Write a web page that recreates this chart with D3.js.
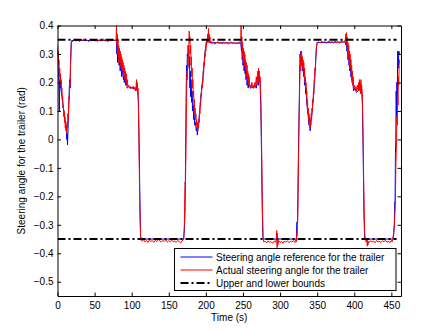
<!DOCTYPE html>
<html>
<head>
<meta charset="utf-8">
<script src="https://cdn.jsdelivr.net/npm/d3@7"></script>
<style>
  body { margin: 0; background: #fff; }
  text { font-family: Helvetica, Arial, "Liberation Sans", sans-serif; }
</style>
</head>
<body>
<svg id="chart" width="443" height="333"></svg>
<script>
// steering angle reference (blue), [time s, angle rad]
var reference = [
  [0,0.32],[0.5,0.27],[1,0.24],[1.5,0.22],[2,0.2],[2.5,0.10],[3,0.21],[3.5,0.18],[4,0.2],[5,0.17],[6,0.15],[7,0.13],
  [8,0.11],[9,0.09],[10,0.07],[11,0.05],[12,0.03],[12.5,0.0],[13,0.02],[13.5,-0.02],[14,0.02],[14.5,0.06],[15,0.10],
  [15.5,0.14],[16,0.19],[16.5,0.21],[17,0.18],[17.5,0.26],[18,0.3],[18.5,0.34],[19,0.347],[30,0.348],[45,0.347],
  [60,0.348],[79,0.348],
  [79.5,0.35],[80,0.30],[80.5,0.33],[81,0.27],[81.5,0.31],[82,0.28],[82.5,0.30],[83,0.26],[84,0.28],[84.5,0.24],
  [85,0.27],[86,0.25],[86.5,0.22],[87,0.26],[88,0.23],[89,0.21],[89.5,0.24],[90,0.20],[91,0.22],[92,0.19],[93,0.20],
  [94,0.18],[96,0.185],[98,0.18],[100,0.182],[102,0.178],[104,0.18],[106,0.175],[107,0.19],[108,0.17],[109,0.14],
  [110,0.0],[111,-0.2],[112,-0.34],[113,-0.35],[170,-0.35],
  [171,-0.32],[172,-0.24],[172.5,-0.10],[173,0.05],[173.5,0.18],[174,0.26],[174.5,0.22],[175,0.30],[175.5,0.28],
  [176,0.33],[177,0.31],[177.5,0.25],[178,0.29],[178.5,0.18],[179,0.24],[179.5,0.15],[180,0.21],[181,0.13],
  [181.5,0.17],[182,0.10],[183,0.12],[183.5,0.07],[184,0.09],[185,0.05],[186,0.06],[187,0.03],[188,0.04],
  [188.5,0.015],[189,0.03],[190,0.05],[191,0.08],[192,0.11],[193,0.14],[194,0.17],[195,0.19],[196,0.22],[197,0.25],
  [198,0.28],[199,0.31],[200,0.33],[201,0.345],[203,0.35],[205,0.34],[246,0.338],
  [247,0.34],[248,0.31],[248.5,0.34],[249,0.28],[249.5,0.31],[250,0.26],[251,0.29],[251.5,0.24],[252,0.27],[253,0.23],
  [253.5,0.26],[254,0.21],[255,0.23],[255.5,0.19],[256,0.21],[257,0.18],[258,0.20],[260,0.18],[262,0.185],[264,0.18],
  [266,0.19],[268,0.18],[270,0.22],[271,0.19],[272,0.23],[273,0.2],[274,0.12],[275,-0.05],[276,-0.25],[277,-0.35],
  [322,-0.35],[322.5,-0.29],[323.5,-0.29],
  [324,-0.2],[325,0.0],[326,0.15],[326.5,0.25],[327,0.30],[327.5,0.27],[328,0.31],[329,0.26],[329.5,0.29],[330,0.24],
  [331,0.27],[332,0.22],[332.5,0.25],[333,0.19],[334,0.21],[334.5,0.16],[335,0.18],[336,0.13],[337,0.10],[338,0.08],
  [339,0.05],[340,0.06],[340.5,0.03],[341,0.05],[342,0.07],[343,0.09],[344,0.12],[345,0.15],[346,0.19],[347,0.23],
  [348,0.27],[349,0.32],[350,0.34],[388,0.342],
  [389,0.33],[389.5,0.36],[390,0.31],[391,0.33],[391.5,0.28],[392,0.31],[393,0.26],[393.5,0.29],[394,0.24],[395,0.26],
  [395.5,0.22],[396,0.24],[397,0.20],[398,0.21],[399,0.17],[401,0.18],[403,0.165],[405,0.17],[407,0.19],[408,0.17],
  [409,0.19],[410,0.17],[411,0.12],[412,-0.05],[413,-0.25],[414,-0.35],[452,-0.35],
  [453,-0.34],[454,-0.30],[454.5,-0.22],[455,-0.22],[455.5,-0.05],[456,0.0],[456.5,0.17],[457,0.08],[457.5,0.2],
  [458,0.14],[458.5,0.31],[459,0.30],[459.5,0.25],[460,0.31],[461,0.3]
];

// actual steering angle (red), [time s, angle rad]
var actual = [
  [0,0.33],[0.5,0.30],[1,0.31],[1.5,0.26],[2,0.28],[2.5,0.22],[3,0.25],[3.5,0.20],[4,0.23],[4.5,0.19],[5,0.21],
  [5.5,0.17],[6,0.18],[6.5,0.14],[7,0.15],[7.5,0.11],[8,0.12],[8.5,0.08],[9,0.10],[9.5,0.06],[10,0.08],[10.5,0.04],
  [11,0.06],[11.5,0.03],[12,0.05],[12.5,0.02],[13,0.06],[13.5,0.04],[14,0.09],[14.5,0.07],[15,0.12],[15.5,0.15],
  [16,0.14],[16.5,0.20],[17,0.19],[17.5,0.25],[18,0.29],[18.5,0.33],[19,0.345],
  [20,0.342],[22,0.350],[24,0.345],[26,0.352],[28,0.347],[30,0.344],[32,0.351],[34,0.348],[36,0.353],[38,0.346],
  [40,0.349],[42,0.343],[44,0.350],[46,0.347],[48,0.352],[50,0.345],[52,0.348],[54,0.344],[56,0.351],[58,0.346],
  [60,0.349],[62,0.353],[64,0.345],[66,0.348],[68,0.343],[70,0.350],[72,0.346],[74,0.352],[76,0.347],[78,0.349],
  [79,0.35],[79.5,0.40],[80,0.33],[80.5,0.37],[81,0.30],[81.5,0.35],[82,0.29],[82.5,0.33],[83,0.27],[83.5,0.32],
  [84,0.28],[84.5,0.31],[85,0.26],[85.5,0.30],[86,0.25],[86.5,0.29],[87,0.24],[87.5,0.28],[88,0.25],[88.5,0.27],
  [89,0.22],[89.5,0.26],[90,0.23],[90.5,0.25],[91,0.21],[91.5,0.24],[92,0.22],[92.5,0.20],[93,0.23],[93.5,0.19],
  [94,0.21],[95,0.185],[96,0.19],[97,0.18],[98,0.186],[99,0.178],[100,0.184],[101,0.18],[102,0.187],[103,0.176],
  [104,0.183],[105,0.17],[106,0.19],[106.5,0.21],[107,0.17],[107.5,0.20],[108,0.16],[108.5,0.18],[109,0.12],
  [110,-0.05],[111,-0.25],[112,-0.34],[113,-0.355],
  [114,-0.358],[116,-0.352],[118,-0.360],[120,-0.355],[122,-0.362],[124,-0.353],[126,-0.358],[128,-0.356],
  [130,-0.361],[132,-0.354],[134,-0.359],[136,-0.352],[138,-0.357],[140,-0.360],[142,-0.355],[144,-0.358],
  [146,-0.353],[148,-0.361],[150,-0.356],[152,-0.359],[154,-0.354],[156,-0.360],[158,-0.357],[160,-0.362],
  [162,-0.355],[164,-0.359],[166,-0.363],[168,-0.356],[170,-0.352],
  [171,-0.30],[171.5,-0.20],[172,-0.15],[172.5,-0.16],[173,-0.05],[173.5,0.05],[174,0.15],[174.5,0.24],[175,0.21],
  [175.5,0.29],[176,0.26],[176.5,0.33],[177,0.30],[177.5,0.38],[178,0.34],[178.5,0.36],[179,0.30],[179.5,0.33],
  [180,0.26],[180.5,0.29],[181,0.22],[181.5,0.25],[182,0.18],[182.5,0.21],[183,0.15],[183.5,0.17],[184,0.12],
  [184.5,0.14],[185,0.09],[185.5,0.11],[186,0.07],[186.5,0.09],[187,0.05],[187.5,0.07],[188,0.04],[188.5,0.06],
  [189,0.03],[189.5,0.05],[190,0.04],[190.5,0.07],[191,0.06],[191.5,0.10],[192,0.09],[192.5,0.13],[193,0.12],
  [193.5,0.16],[194,0.15],[194.5,0.19],[195,0.18],[195.5,0.21],[196,0.20],[196.5,0.24],[197,0.23],[197.5,0.27],
  [198,0.26],[198.5,0.30],[199,0.29],[199.5,0.32],[200,0.31],[200.5,0.34],[201,0.33],[201.5,0.35],[202,0.34],
  [202.5,0.37],[203,0.35],[203.5,0.39],[204,0.34],[204.5,0.37],[205,0.345],[205.5,0.36],[206,0.34],[207,0.345],
  [208,0.336],[210,0.341],[212,0.334],[214,0.339],[216,0.343],[218,0.336],[220,0.340],[222,0.335],[224,0.342],
  [226,0.337],[228,0.341],[230,0.334],[232,0.339],[234,0.343],[236,0.337],[238,0.340],[240,0.335],[242,0.341],
  [244,0.338],[246,0.342],
  [247,0.35],[247.5,0.40],[248,0.33],[248.5,0.36],[249,0.30],[249.5,0.34],[250,0.28],[250.5,0.32],[251,0.27],
  [251.5,0.31],[252,0.26],[252.5,0.30],[253,0.25],[253.5,0.28],[254,0.24],[254.5,0.27],[255,0.22],[255.5,0.26],
  [256,0.21],[256.5,0.24],[257,0.20],[257.5,0.23],[258,0.19],[258.5,0.22],[259,0.185],[260,0.19],[261,0.18],
  [262,0.20],[263,0.185],[264,0.19],[265,0.18],[266,0.20],[267,0.19],[268,0.22],[269,0.19],[270,0.24],[270.5,0.20],
  [271,0.25],[271.5,0.21],[272,0.24],[272.5,0.20],[273,0.22],[274,0.15],[275,0.0],[276,-0.2],[277,-0.34],[278,-0.36],
  [280,-0.358],[282,-0.364],[284,-0.356],[286,-0.362],[288,-0.359],[290,-0.365],[292,-0.357],[294,-0.361],
  [295,-0.35],[295.5,-0.32],[296,-0.38],[296.5,-0.33],[297,-0.37],[298,-0.355],[300,-0.362],[302,-0.358],
  [304,-0.365],[306,-0.357],[308,-0.361],[310,-0.356],[312,-0.363],[314,-0.358],[316,-0.36],[318,-0.355],
  [320,-0.362],[321,-0.352],[322,-0.36],[322.5,-0.33],[323,-0.34],[323.5,-0.30],
  [324,-0.25],[324.5,-0.15],[325,-0.05],[325.5,0.05],[326,0.12],[326.5,0.2],[327,0.26],[327.5,0.24],[328,0.30],
  [328.5,0.27],[329,0.31],[329.5,0.26],[330,0.29],[330.5,0.25],[331,0.28],[331.5,0.24],[332,0.27],[332.5,0.22],
  [333,0.25],[333.5,0.20],[334,0.22],[334.5,0.18],[335,0.20],[335.5,0.15],[336,0.17],[336.5,0.12],[337,0.14],
  [337.5,0.09],[338,0.11],[338.5,0.07],[339,0.09],[339.5,0.05],[340,0.08],[340.5,0.04],[341,0.07],[341.5,0.05],
  [342,0.09],[342.5,0.07],[343,0.11],[343.5,0.10],[344,0.14],[344.5,0.13],[345,0.17],[345.5,0.16],[346,0.21],
  [346.5,0.20],[347,0.25],[347.5,0.24],[348,0.29],[348.5,0.30],[349,0.33],[349.5,0.335],[350,0.34],
  [352,0.343],[354,0.338],[356,0.345],[358,0.340],[360,0.344],[362,0.337],[364,0.342],[366,0.346],[368,0.339],
  [370,0.343],[372,0.338],[374,0.345],[376,0.340],[378,0.344],[380,0.337],[382,0.342],[384,0.346],[386,0.34],
  [388,0.35],[388.5,0.37],[389,0.34],[389.5,0.375],[390,0.33],[390.5,0.36],[391,0.31],[391.5,0.34],[392,0.29],
  [392.5,0.33],[393,0.28],[393.5,0.31],[394,0.26],[394.5,0.30],[395,0.25],[395.5,0.28],[396,0.23],[396.5,0.26],
  [397,0.21],[397.5,0.24],[398,0.19],[398.5,0.22],[399,0.18],[400,0.19],[401,0.175],[402,0.185],[403,0.17],
  [404,0.19],[405,0.175],[406,0.20],[406.5,0.17],[407,0.21],[407.5,0.18],[408,0.20],[408.5,0.16],[409,0.21],
  [409.5,0.18],[410,0.19],[411,0.15],[412,0.0],[413,-0.2],[414,-0.33],[415,-0.355],
  [416,-0.36],[417,-0.35],[417.5,-0.375],[418,-0.355],[418.5,-0.37],[419,-0.358],[420,-0.362],[422,-0.356],
  [424,-0.361],[426,-0.357],[428,-0.363],[430,-0.355],[432,-0.36],[434,-0.358],[436,-0.362],[438,-0.356],
  [440,-0.36],[442,-0.354],[444,-0.361],[446,-0.357],[448,-0.363],[450,-0.355],[451,-0.36],[452,-0.35],
  [453,-0.33],[454,-0.30],[455,-0.25],[455.5,-0.22],[456,-0.10],[456.5,-0.05],[457,0.0],[457.5,0.08],[458,0.05],
  [458.5,0.15],[459,0.12],[459.5,0.22],[460,0.19],[460.5,0.26],[461,0.28]
];

var boundValues = [0.35, -0.35];
var boundTime = [0, 457];

var xTicks = [0, 50, 100, 150, 200, 250, 300, 350, 400, 450];
var yTicks = [-0.5, -0.4, -0.3, -0.2, -0.1, 0, 0.1, 0.2, 0.3, 0.4];
var yTickLabels = ["\u22120.5", "\u22120.4", "\u22120.3", "\u22120.2", "\u22120.1", "0", "0.1", "0.2", "0.3", "0.4"];

var legendLabels = [
  "Steering angle reference for the trailer",
  "Actual steering angle for the trailer",
  "Upper and lower bounds"
];

var margin = {left: 57.5, top: 25.5, right: 42, bottom: 37};
var width = 443 - margin.left - margin.right;
var height = 333 - margin.top - margin.bottom;

var svg = d3.select("#chart");
var g = svg.append("g").attr("transform", "translate(" + margin.left + "," + margin.top + ")");

var x = d3.scaleLinear().domain([0, 463]).range([0, width]);
var y = d3.scaleLinear().domain([-0.55, 0.4]).range([height, 0]);

svg.append("defs").append("clipPath").attr("id", "clip")
  .append("rect").attr("width", width).attr("height", height);

var line = d3.line()
  .x(d => x(d[0]))
  .y(d => y(d[1]));

var plot = g.append("g").attr("clip-path", "url(#clip)");

plot.append("path")
  .attr("d", line(reference))
  .attr("fill", "none")
  .attr("stroke", "#0000ff")
  .attr("stroke-width", 1);

plot.append("path")
  .attr("d", line(actual))
  .attr("fill", "none")
  .attr("stroke", "#ff0000")
  .attr("stroke-width", 1);

boundValues.forEach(function(b) {
  plot.append("path")
    .attr("d", line(boundTime.map(t => [t, b])))
    .attr("fill", "none")
    .attr("stroke", "#000")
    .attr("stroke-width", 2)
    .attr("stroke-dasharray", "8,3,2,3");
});

// axes, ticks pointing inward like matlab
var tickLen = 3.5;
var yFmt = d => yTickLabels[yTicks.indexOf(d)];

g.append("g").attr("transform", "translate(0," + height + ")")
  .call(d3.axisBottom(x).tickValues(xTicks).tickSizeInner(-tickLen).tickSizeOuter(0).tickPadding(6));
g.append("g")
  .call(d3.axisTop(x).tickValues(xTicks).tickSizeInner(-tickLen).tickSizeOuter(0).tickFormat(""));
g.append("g")
  .call(d3.axisLeft(y).tickValues(yTicks).tickSizeInner(-tickLen).tickSizeOuter(0).tickPadding(4).tickFormat(yFmt));
g.append("g").attr("transform", "translate(" + width + ",0)")
  .call(d3.axisRight(y).tickValues(yTicks).tickSizeInner(-tickLen).tickSizeOuter(0).tickFormat(""));

g.selectAll(".tick text")
  .attr("font-family", "Helvetica, Arial, 'Liberation Sans', sans-serif")
  .attr("font-size", 10)
  .attr("fill", "#000");
g.selectAll(".domain, .tick line").attr("stroke", "#000");

g.append("text")
  .attr("x", width / 2)
  .attr("y", height + 25)
  .attr("text-anchor", "middle")
  .attr("font-size", 10)
  .text("Time (s)");

g.append("text")
  .attr("transform", "translate(" + (-33) + "," + (height / 2) + ") rotate(-90)")
  .attr("text-anchor", "middle")
  .attr("font-size", 10)
  .text("Steering angle for the trailer (rad)");

// legend box
var lg = svg.append("g").attr("transform", "translate(174.5,248.5)");
lg.append("rect")
  .attr("width", 221.5)
  .attr("height", 42)
  .attr("fill", "#fff")
  .attr("stroke", "#000");

var legendStyles = [
  {color: "#0000ff", w: 1, dash: null},
  {color: "#ff0000", w: 1, dash: null},
  {color: "#000", w: 2, dash: "8,3,2,3"}
];

legendLabels.forEach(function(label, i) {
  var ly = 8.5 + i * 13;
  lg.append("line")
    .attr("x1", 6).attr("x2", 38)
    .attr("y1", ly).attr("y2", ly)
    .attr("stroke", legendStyles[i].color)
    .attr("stroke-width", legendStyles[i].w)
    .attr("stroke-dasharray", legendStyles[i].dash);
  lg.append("text")
    .attr("x", 41.5)
    .attr("y", ly)
    .attr("dy", "0.35em")
    .attr("font-size", 10)
    .text(label);
});
</script>
</body>
</html>
